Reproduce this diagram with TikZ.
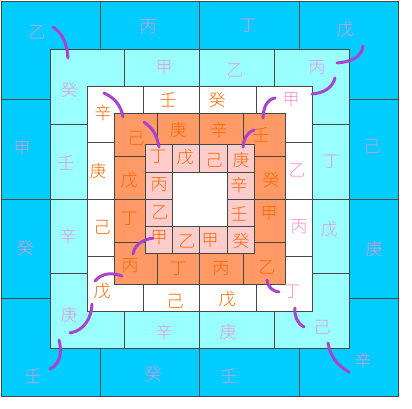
\documentclass[tikz,border=0pt]{standalone}
\usepackage{fontspec}
\newfontfamily\cjk{Noto Sans CJK SC Light}
\definecolor{sky}{HTML}{00CCFF}
\definecolor{aqua}{HTML}{99FFFF}
\definecolor{peach}{HTML}{FF9966}
\definecolor{blush}{HTML}{FFCCCC}
\definecolor{lilac}{RGB}{228,150,220}
\definecolor{rose}{RGB}{255,140,205}
\definecolor{amber}{HTML}{FF6600}
\definecolor{plum}{RGB}{168,68,204}
\tikzstyle{stem}=[font=\cjk\fontsize{17}{17}\selectfont,inner sep=0pt]
\tikzstyle{skystem}=[stem,text=lilac]
\tikzstyle{rosestem}=[stem,text=rose]
\tikzstyle{coralstem}=[stem,text=amber]
\tikzstyle{ringline}=[draw=black!72,line width=0.9pt]
\tikzstyle{hook}=[draw=plum,line width=3pt,line cap=round]

\begin{document}
\begin{tikzpicture}[x=1pt,y=-1pt]
\useasboundingbox (0,0) rectangle (412,408);
\filldraw[fill=sky,ringline] (1,1) rectangle (398.5,396.5);
\filldraw[fill=aqua,ringline] (50,49) rectangle (349,348);
\filldraw[fill=white,ringline] (87,86) rectangle (312,311);
\filldraw[fill=peach,ringline] (114,113) rectangle (285,284);
\filldraw[fill=blush,ringline] (145,144) rectangle (254,253);
\filldraw[fill=white,ringline] (172,172) rectangle (227,226);
\foreach \L/\T/\R/\B/\l/\t/\r/\b/\xa/\xb/\ya/\yb in {
  1/1/398.5/396.5/50/49/349/348/100/299/99/298,
  50/49/349/348/87/86/312/311/124/274/124/273,
  87/86/312/311/114/113/285/284/143/256/142/256,
  114/113/285/284/145/144/254/253/157/243/156/242,
  145/144/254/253/172/172/227/226/172/227/172/226}
{
  \foreach \x in {\xa,199,\xb} {
    \draw[ringline] (\x,\T) -- (\x,\t);
    \draw[ringline] (\x,\b) -- (\x,\B);
  }
  \foreach \y in {\ya,199,\yb} {
    \draw[ringline] (\L,\y) -- (\l,\y);
    \draw[ringline] (\r,\y) -- (\R,\y);
  }
}
\node[skystem] (s1) at (37,32) {乙};
\node[skystem] (s2) at (148,27) {丙};
\node[skystem] (s3) at (248,26) {丁};
\node[skystem] (s4) at (345,29) {戊};
\node[skystem] (s5) at (372,146) {己};
\node[skystem] (s6) at (374,249) {庚};
\node[skystem] (s7) at (363,361) {辛};
\node[skystem] (s8) at (229,376) {壬};
\node[skystem] (s9) at (153,374) {癸};
\node[skystem] (s10) at (33,376) {壬};
\node[skystem] (s11) at (25,248) {癸};
\node[skystem] (s12) at (22,149) {甲};
\node[skystem] (a1) at (69,90) {癸};
\node[skystem] (a2) at (164,68) {甲};
\node[skystem] (a3) at (235,70) {乙};
\node[skystem] (a4) at (317,68) {丙};
\node[skystem] (a5) at (331,162) {丁};
\node[skystem] (a6) at (329,229) {戊};
\node[skystem] (a7) at (322,327) {己};
\node[skystem] (a8) at (228,332) {庚};
\node[skystem] (a9) at (164,332) {辛};
\node[skystem] (a10) at (69,315) {庚};
\node[skystem] (a11) at (68,236) {辛};
\node[skystem] (a12) at (66,163) {壬};
\node[coralstem] (w1) at (103,113) {辛};
\node[coralstem] (w2) at (168,100) {壬};
\node[coralstem] (w3) at (217,100) {癸};
\node[rosestem] (w4) at (291,100) {甲};
\node[rosestem] (w5) at (297,170) {乙};
\node[rosestem] (w6) at (299,227) {丙};
\node[rosestem] (w7) at (292,292) {丁};
\node[coralstem] (w8) at (227,299) {戊};
\node[coralstem] (w9) at (175,301) {己};
\node[coralstem] (w10) at (102,291) {戊};
\node[coralstem] (w11) at (102,227) {己};
\node[coralstem] (w12) at (98,171) {庚};
\node[coralstem] (o1) at (136,138) {己};
\node[coralstem] (o2) at (178,130) {庚};
\node[coralstem] (o3) at (219,130) {辛};
\node[coralstem] (o4) at (261,135) {壬};
\node[coralstem] (o5) at (271,180) {癸};
\node[coralstem] (o6) at (269,214) {甲};
\node[coralstem] (o7) at (267,267) {乙};
\node[coralstem] (o8) at (221,269) {丙};
\node[coralstem] (o9) at (178,269) {丁};
\node[coralstem] (o10) at (130,266) {丙};
\node[coralstem] (o11) at (129,219) {丁};
\node[coralstem] (o12) at (129,180) {戊};
\node[coralstem] (p1) at (158,157) {丁};
\node[coralstem] (p2) at (185,157) {戊};
\node[coralstem] (p3) at (214,160) {己};
\node[coralstem] (p4) at (241,160) {庚};
\node[coralstem] (p5) at (239,185) {辛};
\node[coralstem] (p6) at (239,214) {壬};
\node[coralstem] (p7) at (241,241) {癸};
\node[coralstem] (p8) at (210,241) {甲};
\node[coralstem] (p9) at (187,241) {乙};
\node[coralstem] (p10) at (159,238) {甲};
\node[coralstem] (p11) at (160,212) {乙};
\node[coralstem] (p12) at (159,185) {丙};
\draw[hook] (53,27) to[out=-35,in=95] (68,58);
\draw[hook] (104,93) to[out=-25,in=100] (123,117);
\draw[hook] (144,122) to[out=-35,in=100] (159,147);
\draw[hook] (363,46) to[out=-95,in=5] (337,63);
\draw[hook] (335,78) to[out=-105,in=5] (312,94);
\draw[hook] (275,98) to[out=190,in=88] (263,118);
\draw[hook] (254,130) to[out=200,in=85] (243,147);
\draw[hook] (153,238) to[out=190,in=80] (133,254);
\draw[hook] (122,276) to[out=160,in=50] (95,281);
\draw[hook] (92,304) to[out=-92,in=10] (70,333);
\draw[hook] (59,340) to[out=-75,in=25] (50,369);
\draw[hook] (267,280) to[out=-85,in=175] (279,292);
\draw[hook] (295,308) to[out=-95,in=150] (304,327);
\draw[hook] (328,343) to[out=-80,in=150] (349,372);
\end{tikzpicture}
\end{document}
